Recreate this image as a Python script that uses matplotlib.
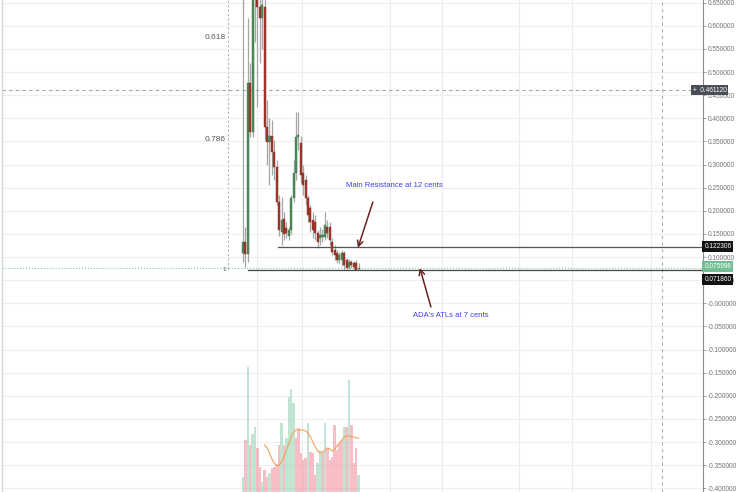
import numpy as np
import matplotlib.pyplot as plt
from matplotlib.lines import Line2D

plt.rcParams['font.family'] = ['Liberation Sans', 'DejaVu Sans']

# daily candles (price, USD)
opens = [0.109, 0.133, 0.107, 0.476, 0.370, 0.720, 0.750, 0.640, 0.617, 0.641,
         0.381, 0.349, 0.362, 0.327, 0.295, 0.219, 0.154, 0.182, 0.163, 0.145,
         0.158, 0.228, 0.282, 0.360, 0.347, 0.282, 0.267, 0.228, 0.206, 0.180,
         0.176, 0.152, 0.141, 0.143, 0.143, 0.165, 0.165, 0.133, 0.115, 0.109,
         0.094, 0.094, 0.109, 0.094, 0.078, 0.089, 0.087, 0.087, 0.074]
highs = [0.700, 0.165, 0.617, 0.520, 0.780, 0.800, 0.780, 0.660, 0.670, 0.660,
         0.440, 0.401, 0.396, 0.353, 0.310, 0.234, 0.230, 0.197, 0.176, 0.165,
         0.234, 0.310, 0.414, 0.414, 0.362, 0.299, 0.277, 0.234, 0.213, 0.197,
         0.191, 0.158, 0.165, 0.160, 0.197, 0.180, 0.175, 0.141, 0.126, 0.115,
         0.111, 0.115, 0.113, 0.098, 0.096, 0.094, 0.092, 0.094, 0.087]
lows = [0.089, 0.078, 0.089, 0.360, 0.360, 0.565, 0.424, 0.520, 0.550, 0.353,
        0.299, 0.256, 0.277, 0.267, 0.213, 0.145, 0.126, 0.137, 0.141, 0.137,
        0.150, 0.219, 0.267, 0.332, 0.260, 0.234, 0.213, 0.176, 0.154, 0.141,
        0.137, 0.120, 0.126, 0.133, 0.137, 0.141, 0.126, 0.104, 0.094, 0.087,
        0.087, 0.081, 0.072, 0.0719, 0.074, 0.076, 0.072, 0.0719, 0.072]
closes = [0.133, 0.107, 0.476, 0.370, 0.720, 0.740, 0.640, 0.617, 0.645, 0.381,
          0.349, 0.362, 0.327, 0.295, 0.219, 0.158, 0.180, 0.150, 0.152, 0.158,
          0.228, 0.282, 0.360, 0.364, 0.277, 0.256, 0.228, 0.191, 0.176, 0.158,
          0.152, 0.133, 0.148, 0.148, 0.169, 0.152, 0.137, 0.111, 0.104, 0.094,
          0.104, 0.109, 0.083, 0.076, 0.089, 0.083, 0.078, 0.072, 0.076]

volume = [15, 52, 125, 47, 58, 65, 44, 25, 10, 22, 15, 19, 24, 25, 28, 47, 69,
          47, 54, 95, 103, 89, 54, 64, 39, 32, 34, 69, 40, 39, 17, 29, 42, 40,
          69, 44, 32, 35, 67, 42, 49, 52, 65, 65, 112, 67, 29, 44, 17]
vol_up = [1, 0, 1, 0, 1, 1, 0, 0, 1, 0, 0, 1, 0, 0, 0, 0, 1, 0, 1, 1, 1, 1, 0,
          0, 0, 0, 0, 1, 0, 0, 0, 1, 1, 0, 1, 0, 0, 0, 0, 0, 0, 0, 1, 0, 1, 0,
          0, 0, 1]
vol_ma = [None] * 9 + [47, 44, 39, 33, 29, 26, 27, 30, 35, 42, 48, 55, 60, 62,
                       62, 62, 62, 61, 59, 55, 50, 45, 41, 39, 40, 42, 44, 43,
                       41, 42, 46, 49, 52, 55, 56, 56, 55, 55, 54, 54]

yticks = np.round(np.arange(-0.40, 0.651, 0.05), 2)
ytick_labels = ['-0.000000' if v == 0 else f'{v:.6f}' for v in yticks]
grid_x = [5.8, 24.5, 61.0, 82.6, 114.5, 136.5, 169.3]

fib_high, fib_low = 1.387, 0.074
fib_levels = [0.618, 0.786, 1]

resistance = 0.122306
atl = 0.071860
last_price = 0.075998
cross_price, cross_x = 0.461120, 173.9

green, red = '#4f8d5c', '#a3392c'

fig = plt.figure(figsize=(7.4, 4.92), dpi=100)
ax = fig.add_axes([2 / 740, 0, 701 / 740, 1])

# volume pane (twin axis, drawn first so the price axis keeps its right ticks)
vax = ax.twinx()
vax.set_ylim(0, 492)
vax.axis('off')
x = np.arange(len(opens))
vcol = ['#8fd1ae' if u else '#f28b96' for u in vol_up]
vax.bar(x, volume, width=1.0, color=vcol, alpha=0.55, zorder=1)
ma = np.array([np.nan if v is None else v for v in vol_ma], dtype=float)
vax.plot(x, ma, color='#f4a05c', lw=0.9, alpha=0.9)

ax.set_xlim(-100, 190.9)
ax.set_ylim(-0.408, 0.6558)
ax.set_yticks(yticks)
ax.set_yticklabels(ytick_labels)
ax.yaxis.tick_right()
ax.tick_params(axis='y', which='both', left=False, labelleft=False,
               right=True, labelright=True, length=2.2, width=0.6,
               colors='#999999', labelsize=4.7, labelcolor='#707070', pad=1)
ax.set_xticks([])
ax.grid(axis='y', color='#efefef', lw=0.8)
for gx in grid_x:
    ax.axvline(gx, color='#ececec', lw=0.8, zorder=0)
for s in ['left', 'top', 'bottom']:
    ax.spines[s].set_visible(False)
ax.spines['right'].set_color('#8a8a8a')
ax.spines['right'].set_linewidth(0.8)

# candles
o = np.array(opens); c = np.array(closes)
up = c >= o
ax.vlines(x, lows, highs, color='#a6a6a6', lw=0.9, zorder=3)
body = np.maximum(np.abs(c - o), 0.002)
ax.bar(x, body, bottom=np.minimum(o, c), width=0.85,
       color=np.where(up, green, red), edgecolor=np.where(up, '#3d7049', '#7e2a20'),
       lw=0.3, zorder=4)

# fib retracement labels
ax.plot([-6.2, -6.2], [fib_low, 0.6558], color='#b0b0b0', lw=0.8,
        dashes=(2, 2), zorder=1)
for lv in fib_levels:
    yv = fib_high - lv * (fib_high - fib_low)
    if lv == 1:
        ax.text(-7.9, yv, '1', ha='center', va='center', fontsize=4.5, color='#555555')
    else:
        ax.text(-7.1, yv, str(lv), ha='right', va='center', fontsize=6, color='#555555')

# crosshair
ax.axhline(cross_price, color='#a0a0a0', lw=0.8, dashes=(3, 3), zorder=2)
ax.axvline(cross_x, color='#b0b0b0', lw=0.8, dashes=(3, 3), zorder=2)

# price lines
ax.plot([14.5, 190.9], [resistance] * 2, color='#555555', lw=0.9, zorder=5)
ax.plot([2.1, 190.9], [atl] * 2, color='#444444', lw=0.9, zorder=5)
ax.axhline(last_price, color='#86c9a2', lw=0.8, ls=':', zorder=2)

# annotations
arrow = dict(arrowstyle='->', color='#6b2222', lw=1.1, shrinkA=0, shrinkB=0)
ax.annotate('', xy=(47.7, 0.120), xytext=(53.9, 0.219), arrowprops=arrow, zorder=6)
ax.annotate('', xy=(73.4, 0.0763), xytext=(78.0, -0.008), arrowprops=arrow, zorder=6)
ax.text(62.9, 0.254, 'Main Resistance at 12 cents', ha='center', va='center',
        fontsize=5.5, color='#3d3df0')
ax.text(86.3, -0.027, "ADA's ATLs at 7 cents", ha='center', va='center',
        fontsize=5.5, color='#3d3df0')

# price tags on the axis
def price_tag(price, text, fc, dx=1, dy=0):
    ax.annotate(text, xy=(1, price), xycoords=ax.get_yaxis_transform(),
                xytext=(dx, dy), textcoords='offset points', ha='left',
                va='center', fontsize=4.7, color='white', zorder=10,
                bbox=dict(boxstyle='square,pad=0.3', fc=fc, ec='none'),
                annotation_clip=False)

price_tag(cross_price, '+  ' + f'{cross_price:.6f}', '#4a4e59', dx=-7.5)
price_tag(resistance, f'{resistance:.6f}', '#131313')
price_tag(last_price, f'{last_price:.6f}', '#72bf93', dy=1)
price_tag(atl, f'{atl:.6f}', '#131313', dy=-7)

fig.add_artist(Line2D([1.5 / 740] * 2, [0, 1], color='#d3d9e3', lw=1))

fig.savefig('out.png', dpi=100)
